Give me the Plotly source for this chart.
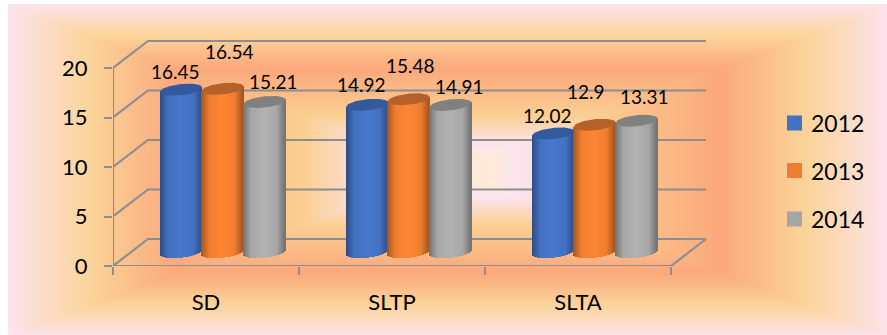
import numpy as np
import plotly.graph_objects as go

# Chart data
categories = ["SD", "SLTP", "SLTA"]
years = ["2012", "2013", "2014"]
values_2012 = [16.45, 14.92, 12.02]
values_2013 = [16.54, 15.48, 12.90]
values_2014 = [15.21, 14.91, 13.31]
y_ticks = [0, 5, 10, 15, 20]

# Styling per series: legend swatch, cylinder body, top cap
swatch_colors = ["#4472C4", "#ED7D31", "#A5A5A5"]
body_colors = [(72, 120, 205), (255, 134, 51), (178, 178, 178)]
cap_colors = ["#335A9C", "#B5622A", "#808080"]
# Label offsets in pixels (dx, up) relative to the cylinder top
label_offsets = [
    [(-6, 18.5), (-6, 20), (-6, 17.5)],
    [(6.5, 37), (1.5, 34), (-8.5, 33)],
    [(8.5, 20), (8.5, 18), (7.5, 24)],
]

W, H = 887, 335
FONT = "Lato"
GRID = "#8C8E90"
PX_PER_CAT = 186.0      # horizontal pixels per category
PX_PER_UNIT = 9.9       # vertical pixels per value unit
X0_PX, Y0_PX = 113, 266 # front-left corner of the floor
DEPTH_X = 35 / PX_PER_CAT
DEPTH_Y = 27 / PX_PER_UNIT
FLOOR_Y = 13.5 / PX_PER_UNIT
X_RANGE = [-0.5, 2.8]
Y_RANGE = [0, 23.1]
CYL_OFFSETS = [-25 / PX_PER_CAT, 16.6 / PX_PER_CAT, 58.5 / PX_PER_CAT]
CYL_HALF = 21
CAP_B = 5.6 / PX_PER_UNIT
CAP_TILT = 2.2 / PX_PER_UNIT

fig = go.Figure()

# Rectangular path gradient behind everything
bx0, bx1, by0, by1 = 9, 887, 5, 335
gx = np.linspace(bx0, bx1, 440)
gy = np.linspace(by0, by1, 166)
xx, yy = np.meshgrid(gx, gy)
t = np.maximum(np.abs(xx - (bx0 + bx1) / 2) / ((bx1 - bx0) / 2),
               np.abs(yy - (by0 + by1) / 2) / ((by1 - by0) / 2))
fig.add_trace(go.Heatmap(
    x=gx, y=gy, z=t, zmin=0, zmax=1, zsmooth="best", showscale=False, hoverinfo="skip",
    colorscale=[[0, "#FCEFD9"], [0.09, "#FCEAD8"], [0.16, "#FBE4EF"], [0.33, "#FBCF92"],
                [0.62, "#FBA87C"], [0.82, "#FBD59B"], [1, "#FDE3EC"]],
    xaxis="x", yaxis="y",
))

annotations = []

# Legend entries: square swatch followed by the year
legend_y = [123, 170.5, 219]
for name, color, ly in zip(years, swatch_colors, legend_y):
    fig.add_trace(go.Scatter(
        x=[794.5], y=[ly], mode="markers", name=name, hoverinfo="skip",
        marker=dict(symbol="square", size=15, color=color), showlegend=False,
        xaxis="x", yaxis="y", cliponaxis=False,
    ))
    annotations.append(dict(
        x=809, y=ly, xref="x", yref="y", text=name, showarrow=False,
        xanchor="left", yanchor="middle", font=dict(family=FONT, size=23, color="#000"),
    ))


def wall_line(xs, ys):
    fig.add_trace(go.Scatter(
        x=xs, y=ys, mode="lines", line=dict(color=GRID, width=2.2), hoverinfo="skip",
        showlegend=False, xaxis="x2", yaxis="y2", cliponaxis=False,
    ))


# Walls and floor of the pseudo-3D frame
x_left, x_right = -0.5, 2.5
for v in y_ticks:
    wall_line([x_left, x_left + DEPTH_X, x_right + DEPTH_X],
              [v, v + DEPTH_Y, v + DEPTH_Y])
wall_line([x_left, x_left], [0, 20])
wall_line([x_left, x_right, x_right + DEPTH_X], [0, 0, DEPTH_Y])

# Cylinders: a body of one-pixel strips shaded across the width, plus a top cap
u = (np.arange(2 * CYL_HALF) + 0.5 - CYL_HALF) / CYL_HALF
shade = np.interp(u, [-1, -0.6, 0, 0.6, 1], [0.64, 0.94, 1.0, 0.94, 0.64])
arc = np.sqrt(1 - u ** 2)
all_values = [values_2012, values_2013, values_2014]
for s, series in enumerate(all_values):
    for c, v in enumerate(series):
        cx = c + CYL_OFFSETS[s]
        strips_x = cx + u * CYL_HALF / PX_PER_CAT
        bottom = FLOOR_Y + u * CAP_TILT - CAP_B * arc
        top = FLOOR_Y + v + u * CAP_TILT
        colors = [
            "rgb({},{},{})".format(*(int(ch * k) for ch in body_colors[s])) for k in shade
        ]
        fig.add_trace(go.Bar(
            x=strips_x, y=top - bottom, base=bottom, width=1 / PX_PER_CAT,
            marker=dict(color=colors, line=dict(width=0)), hoverinfo="skip",
            showlegend=False, xaxis="x3", yaxis="y3",
        ))
        uu = np.linspace(-1, 1, 41)
        aa = np.sqrt(1 - uu ** 2)
        cap_x = cx + uu * CYL_HALF / PX_PER_CAT
        cap_mid = FLOOR_Y + v + uu * CAP_TILT
        fig.add_trace(go.Scatter(
            x=np.r_[cap_x, cap_x[::-1]],
            y=np.r_[cap_mid + CAP_B * aa, (cap_mid - CAP_B * aa)[::-1]],
            mode="lines", fill="toself", fillcolor=cap_colors[s], line=dict(width=0),
            hoverinfo="skip", showlegend=False, xaxis="x3", yaxis="y3",
        ))
        dx, up = label_offsets[s][c]
        annotations.append(dict(
            x=cx, y=FLOOR_Y + v, xref="x3", yref="y3", text=f"{v:g}", showarrow=False,
            xanchor="center", yanchor="middle", xshift=dx, yshift=up,
            font=dict(family=FONT, size=19, color="#000"),
        ))

dom_x = [X0_PX / W, (X0_PX + (X_RANGE[1] - X_RANGE[0]) * PX_PER_CAT) / W]
dom_y = [(H - Y0_PX) / H, (H - Y0_PX + (Y_RANGE[1] - Y_RANGE[0]) * PX_PER_UNIT) / H]

fig.update_layout(
    width=W, height=H, margin=dict(l=0, r=0, t=0, b=0), autosize=False,
    paper_bgcolor="#FFFFFF", plot_bgcolor="rgba(0,0,0,0)",
    barmode="overlay", bargap=0, showlegend=False, annotations=annotations,
    font=dict(family=FONT, color="#000"),
    xaxis=dict(domain=[0, 1], range=[0, W], visible=False, fixedrange=True, automargin=False),
    yaxis=dict(domain=[0, 1], range=[H, 0], visible=False, fixedrange=True, automargin=False),
    xaxis2=dict(
        domain=dom_x, range=X_RANGE, anchor="y2", showgrid=False, zeroline=False, showline=False,
        automargin=False,
        tickmode="array", tickvals=[0, 1, 2], ticktext=categories, ticks="", ticklabelstandoff=21,
        tickfont=dict(family=FONT, size=22, color="#000"),
        minor=dict(tickmode="array", tickvals=[-0.5, 0.5, 1.5, 2.5], ticks="outside",
                   ticklen=8, tickwidth=2, tickcolor=GRID, showgrid=False),
    ),
    yaxis2=dict(
        domain=dom_y, range=Y_RANGE, anchor="x2", showgrid=False, zeroline=False, showline=False,
        automargin=False,
        tickmode="array", tickvals=y_ticks, ticks="outside", ticklen=8, tickwidth=2,
        tickcolor=GRID, ticklabelstandoff=12, tickfont=dict(family=FONT, size=22, color="#000"),
    ),
    xaxis3=dict(domain=dom_x, range=X_RANGE, anchor="y3", visible=False, automargin=False),
    yaxis3=dict(domain=dom_y, range=Y_RANGE, anchor="x3", visible=False, automargin=False),
)

fig.write_html("out.html", config=dict(displayModeBar=False))
